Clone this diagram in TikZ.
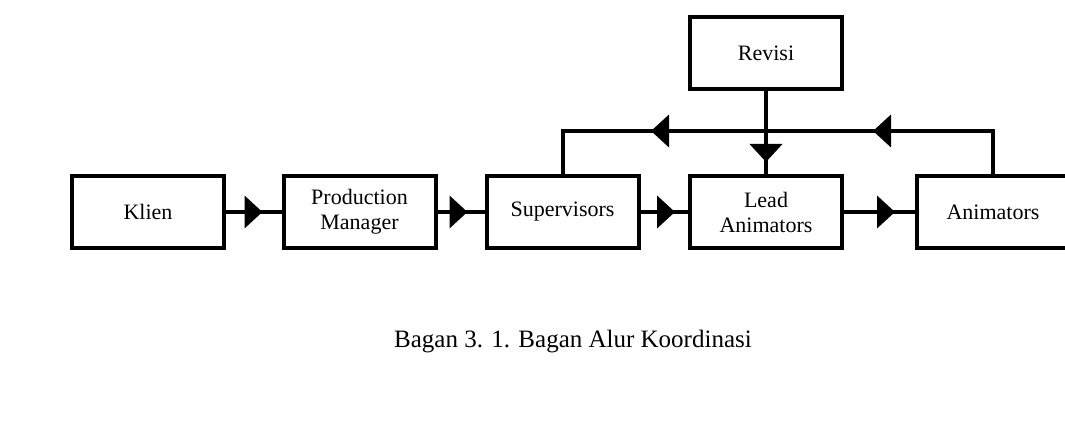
\documentclass[tikz,border=0pt]{standalone}
\usepackage{fontspec}
\setmainfont{Liberation Serif}
\usetikzlibrary{arrows.meta, decorations.markings, positioning}
\tikzset{
	blok/.style={draw, line width=2pt, minimum width=76pt, minimum height=36pt, inner sep=0pt, align=center, font=\fontsize{11}{12.5}\selectfont},
	alur/.style={line width=2pt, postaction={decorate, decoration={markings, mark=at position #1 with {\arrow{Triangle[length=9pt,width=16pt]}}}}}
}

\begin{document}
\begin{tikzpicture}[x=0.5pt, y=-0.5pt]
	\useasboundingbox (0,0) rectangle (1065,421);
	\node[blok] (klien) at (148,212) {Klien};
	\node[blok] (pm) at (359.5,212) {Production\\Manager};
	\node[blok] (sup) at (562.5,212) {Supervisors};
	\node[blok] (lead) at (766,212) {Lead\\Animators};
	\node[blok] (anim) at (993,212) {Animators};
	\node[blok] (revisi) at (766,53) {Revisi};
	\coordinate (atas) at (0,131);
	
	\draw[alur=-9.5pt] (klien.east) -- (pm.west);
	\draw[alur=-8.5pt] (pm.east) -- (sup.west);
	\draw[alur=-6.5pt] (sup.east) -- (lead.west);
	\draw[alur=-10pt] (lead.east) -- (anim.west);
	\draw[alur=-6pt] (revisi.south) -- (lead.north);
	\draw[alur=81.5pt, alur=192.5pt] (anim.north) -- (anim.north |- atas) -| (sup.north);
	
	\node[font=\fontsize{12.5}{14}\selectfont] (judul) at (573,342) {Bagan 3. 1. Bagan Alur Koordinasi};
\end{tikzpicture}
\end{document}
